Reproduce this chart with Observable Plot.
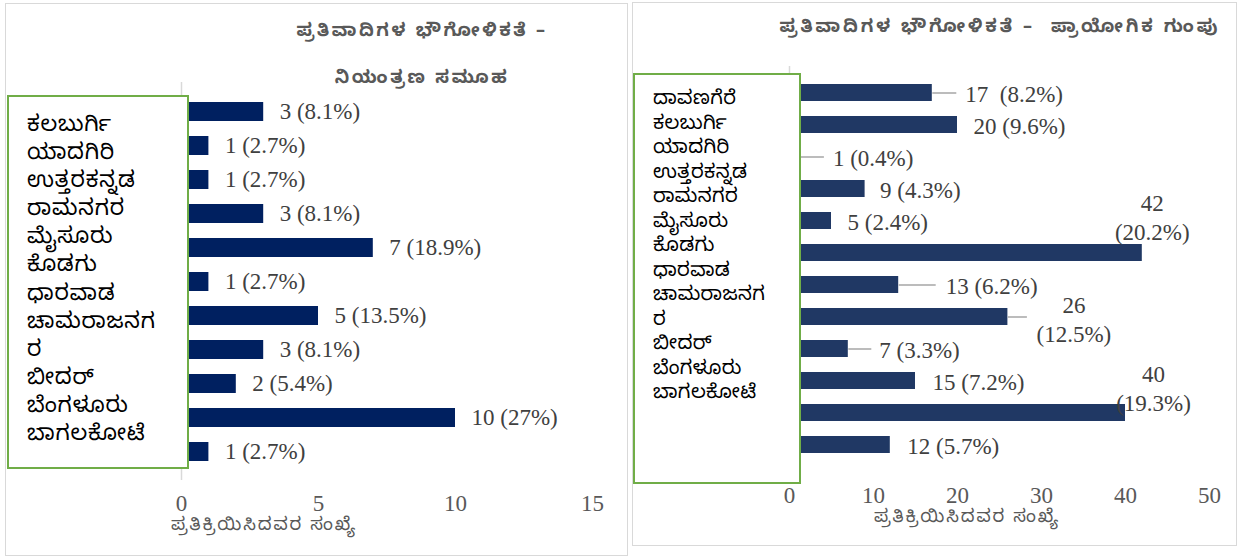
<!DOCTYPE html>
<html>
<head>
<meta charset="utf-8">
<script src="https://cdn.jsdelivr.net/npm/d3@7"></script>
<script src="https://cdn.jsdelivr.net/npm/@observablehq/plot@0.6"></script>
<style>
  html, body { margin:0; padding:0; background:#fff; }
  #root { position:relative; width:1242px; height:557px; background:#fff; overflow:hidden; }
  .panel { position:absolute; box-sizing:border-box; border:1px solid #d9d9d9; background:#fff; }
  .panel svg { position:absolute; left:0; top:0; }
  .abs { position:absolute; white-space:pre; }
  .title { color:#595959; font-family:"Noto Sans Kannada","Noto Sans","DejaVu Sans",sans-serif; font-weight:bold; font-size:18px; letter-spacing:2.6px; transform:translate(-50%,-50%); }
  .axt { color:#595959; font-family:"Noto Sans Kannada","Noto Sans","DejaVu Sans",sans-serif; font-size:18px; letter-spacing:1.9px; transform:translate(-50%,-50%); }
  .box { position:absolute; box-sizing:border-box; border:2px solid #70ad47; background:#fff; font-family:"Noto Sans Kannada","Noto Sans","DejaVu Sans",sans-serif; color:#000; white-space:nowrap; }
</style>
</head>
<body>
<div id="root">
  <div id="pL" class="panel" style="left:5px;top:3px;width:623px;height:553px;"></div>
  <div id="pR" class="panel" style="left:632px;top:2px;width:605px;height:544px;"></div>
</div>
<script>
// ---------- data ----------
const leftTitle = ["ಪ್ರತಿವಾದಿಗಳ ಭೌಗೋಳಿಕತೆ –", "ನಿಯಂತ್ರಣ ಸಮೂಹ"];
const rightTitle = "ಪ್ರತಿವಾದಿಗಳ ಭೌಗೋಳಿಕತೆ –  ಪ್ರಾಯೋಗಿಕ ಗುಂಪು";
const axisTitle = "ಪ್ರತಿಕ್ರಿಯಿಸಿದವರ ಸಂಖ್ಯೆ";

const leftCategories = ["ಕಲಬುರ್ಗಿ","ಯಾದಗಿರಿ","ಉತ್ತರಕನ್ನಡ","ರಾಮನಗರ","ಮೈಸೂರು","ಕೊಡಗು","ಧಾರವಾಡ","ಚಾಮರಾಜನಗರ","ಬೀದರ್","ಬೆಂಗಳೂರು","ಬಾಗಲಕೋಟೆ"];
const leftValues = [3,1,1,3,7,1,5,3,2,10,1];
const leftPercents = ["8.1","2.7","2.7","8.1","18.9","2.7","13.5","8.1","5.4","27","2.7"];
const leftTicks = [0,5,10,15];

const rightCategories = ["ದಾವಣಗೆರೆ","ಕಲಬುರ್ಗಿ","ಯಾದಗಿರಿ","ಉತ್ತರಕನ್ನಡ","ರಾಮನಗರ","ಮೈಸೂರು","ಕೊಡಗು","ಧಾರವಾಡ","ಚಾಮರಾಜನಗರ","ಬೀದರ್","ಬೆಂಗಳೂರು","ಬಾಗಲಕೋಟೆ"];
const rightValues = [17,20,1,9,5,42,13,26,7,15,40,12];
const rightPercents = ["8.2","9.6","0.4","4.3","2.4","20.2","6.2","12.5","3.3","7.2","19.3","5.7"];
const rightTicks = [0,10,20,30,40,50];

// legend-box line wrapping as in the original
const wrapped = {"ಚಾಮರಾಜನಗರ": ["ಚಾಮರಾಜನಗ","ರ"]};

// data-label placement for the right panel (pixel offsets; leader = leader-line length in px)
const rightLabelLayout = [
  {dx:33, dy:0, leader:24, two:false, gap:true},
  {dx:16, dy:0, leader:0, two:false},
  {dx:35, dy:0, leader:26, two:false},
  {dx:15, dy:0, leader:0, two:false},
  {dx:16, dy:0, leader:0, two:false},
  {dx:10, dy:-37, leader:0, two:true},
  {dx:47, dy:0, leader:37, two:false},
  {dx:66, dy:1, leader:19, two:true},
  {dx:31, dy:0, leader:23, two:false},
  {dx:17, dy:0, leader:0, two:false},
  {dx:28, dy:-26, leader:0, two:true},
  {dx:17, dy:0, leader:0, two:false}
];

// ---------- build ----------
const serif = "'Liberation Serif','Times New Roman',serif";
const FS = 23;
const leftData = leftCategories.map((c,i)=>({category:c, value:leftValues[i], pct:leftPercents[i]}));
const rightData = rightCategories.map((c,i)=>({category:c, value:rightValues[i], pct:rightPercents[i], ...rightLabelLayout[i]}));

function addAbs(parent, cls, text, x, y, extra) {
  const d = document.createElement("div");
  d.className = "abs " + cls;
  d.textContent = text;
  d.style.left = x + "px"; d.style.top = y + "px";
  if (extra) Object.assign(d.style, extra);
  parent.appendChild(d);
  return d;
}
function addBox(parent, cats, left, top, width, height, lh, padTop, padLeft, fs, ls) {
  const b = document.createElement("div");
  b.className = "box";
  Object.assign(b.style, {left:left+"px", top:top+"px", width:width+"px", height:height+"px",
    paddingTop:padTop+"px", paddingLeft:padLeft+"px", fontSize:fs+"px", lineHeight:lh+"px", letterSpacing:ls+"px"});
  for (const c of cats) for (const line of (wrapped[c] || [c])) {
    const l = document.createElement("div"); l.textContent = line; b.appendChild(l);
  }
  parent.appendChild(b);
}

// Left panel
const pL = document.getElementById("pL");
const plotL = Plot.plot({
  width: 621, height: 551, marginLeft: 175, marginRight: 35, marginTop: 78, marginBottom: 75,
  x: {domain:[0,15], ticks: leftTicks, tickSize:0, tickPadding:14, label:null},
  y: {domain: leftCategories, padding:0.45, axis:null},
  style: {fontFamily: serif, fontSize: FS+"px", color:"#595959", background:"transparent", overflow:"visible"},
  marks: [
    Plot.ruleX([0], {stroke:"#d9d9d9", strokeWidth:1.5}),
    Plot.barX(leftData, {x:"value", y:"category", fill:"#002060"}),
    Plot.text(leftData, {x:"value", y:"category", text:d=>`${d.value} (${d.pct}%)`, dx:16, textAnchor:"start", fill:"#404040", fontSize:FS, fontFamily:serif})
  ]
});
pL.appendChild(plotL);
addAbs(pL, "title", leftTitle[0], 416, 29);
addAbs(pL, "title", leftTitle[1], 416, 76);
addBox(pL, leftCategories, 1, 91, 182, 374, 28.1, 17, 18, 22, 0.8);
addAbs(pL, "axt", axisTitle, 258, 523);

// Right panel
const pR = document.getElementById("pR");
const RW = 603, RH = 542, RML = 156, RMR = 27;
const kx = (RW - RML - RMR) / 50;
const labelMarks = rightData.map(d => {
  const s = d.two ? `${d.value}\n(${d.pct}%)` : (d.gap ? `${d.value}\u00a0 (${d.pct}%)` : `${d.value} (${d.pct}%)`);
  return Plot.text([d], {
    x:"value", y:"category", text: () => s,
    dx: d.dx, dy: d.dy, textAnchor: d.two ? "middle" : "start", lineAnchor:"middle", lineHeight:1.25,
    fill:"#404040", fontSize:FS, fontFamily:serif
  });
});
const plotR = Plot.plot({
  width: RW, height: RH, marginLeft: RML, marginRight: RMR, marginTop: 63, marginBottom: 74,
  x: {domain:[0,50], ticks: rightTicks, tickSize:0, tickPadding:15, label:null},
  y: {domain: rightCategories, padding:0.46, axis:null},
  style: {fontFamily: serif, fontSize: FS+"px", color:"#595959", background:"transparent", overflow:"visible"},
  marks: [
    Plot.ruleX([0], {stroke:"#d9d9d9", strokeWidth:1.5}),
    Plot.barX(rightData, {x:"value", y:"category", fill:"#203864"}),
    Plot.link(rightData.filter(d=>d.leader>0), {x1:"value", x2:d=>d.value + d.leader/kx, y1:"category", y2:"category", stroke:"#a6a6a6", strokeWidth:1.5}),
    ...labelMarks
  ]
});
pR.appendChild(plotR);
addAbs(pR, "title", rightTitle, 367, 26, {letterSpacing:"2.9px"});
addBox(pR, rightCategories, 0, 70, 168, 411, 24.5, 15, 18, 19.5, 0.4);
addAbs(pR, "axt", axisTitle, 334, 516);
</script>
</body>
</html>
